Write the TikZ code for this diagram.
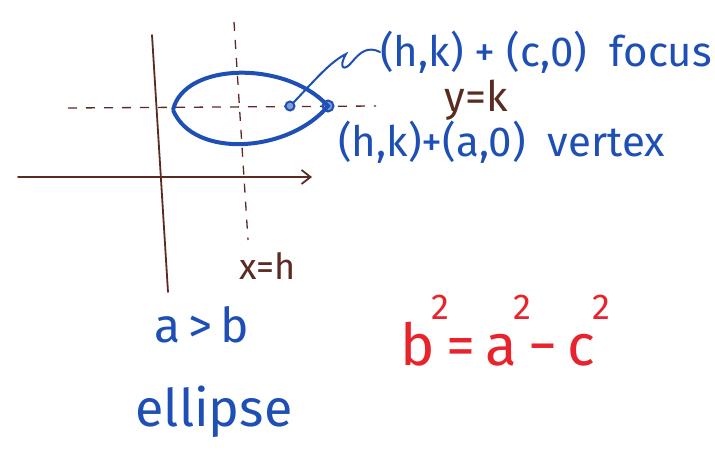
\documentclass[tikz,border=0pt]{standalone}
\usepackage{fontspec}
\setmainfont{Fira Sans}
\usepackage{xcolor}
\definecolor{penBlue}  {HTML}{1E4FB5}
\definecolor{penBrown} {HTML}{5B2B22}
\definecolor{penRed}   {HTML}{E8232B}
\usetikzlibrary{arrows.meta, positioning, calc}
\newcommand{\hsq}{\kern-0.05em\raisebox{0.78em}{\fontsize{36}{36}\selectfont 2}\kern-0.05em}
\tikzset{
    axisline/.style={penBrown, line width=1.8pt, line cap=round},
    axisarrow/.style={axisline, -{Straight Barb[length=9pt, width=14pt]}},
    guide/.style={penBrown, line width=1.3pt, dash pattern=on 9pt off 9pt},
    conic/.style={penBlue, line width=4pt},
    lead/.style={penBlue, line width=2pt, line cap=round},
    ptmark/.style={circle, draw=penBlue, fill=penBlue!55, line width=2pt,
                   minimum size=9pt, inner sep=0pt},
    bluetext/.style={text=penBlue, inner sep=0pt,
                     font=\fontsize{42}{46}\selectfont},
    browntext/.style={text=penBrown, inner sep=0pt},
    redtext/.style={text=penRed, inner sep=0pt},
}
\begin{document}
\begin{tikzpicture}[x=1pt, y=-1pt]
\useasboundingbox (0,0) rectangle (715,464);
% --- axes ---
\coordinate (yaxis-top) at (152,35);
\coordinate (yaxis-bot) at (168,292);
\coordinate (xaxis-left) at (18,177);
\coordinate (xaxis-right) at (312,177);
\draw[axisline] (yaxis-top) -- (yaxis-bot);
\draw[axisarrow] (xaxis-left) -- (xaxis-right);

% --- x=h and y=k ---
\coordinate (xh-top) at (234,22);
\coordinate (xh-bot) at (248,240);
\coordinate (yk-left) at (68,108);
\coordinate (yk-right) at (376,106);
\draw[guide] (xh-top) -- (xh-bot);
\draw[guide] (yk-left) -- (yk-right);

% --- ellipse ---
\coordinate (vleft) at (173,110);
\node[ptmark, minimum size=11pt] (vertex) at (328,106) {};
\node[ptmark] (focus) at (290,106) {};
\draw[conic] (vleft) .. controls (184,62) and (286,60) .. (vertex.center)
    .. controls (290,152) and (194,160) .. (vleft);

% --- labels ---
\node[bluetext, anchor=west] (focus-lbl) at (380,52) {(h,k) + (c,0) \ focus};
\node[bluetext, anchor=west] (vertex-lbl) at (338,142) {(h,k)+(a,0) \ vertex};
\node[browntext, font=\fontsize{42}{46}\selectfont] (yk-lbl) at (476,100) {y=k};
\node[browntext, font=\fontsize{36}{40}\selectfont] (xh-lbl) at (268,266) {x=h};
\node[bluetext, font=\fontsize{48}{52}\selectfont] (ab-lbl) at (202,325) {a\,>\,b};
\node[redtext, font=\fontsize{58}{62}\selectfont, anchor=south west]
    (rel-lbl) at (400,366) {b\hsq=\,a\hsq−\,c\hsq};
\node[bluetext, font=\fontsize{52}{56}\selectfont] (name-lbl) at (214,412) {ellipse};

\draw[lead] (focus.north east) .. controls (315,80) and (330,62) .. (346,54)
    .. controls (338,68) and (344,72) .. (352,62)
    .. controls (360,52) and (368,46) .. (focus-lbl.west);
\end{tikzpicture}
\end{document}
